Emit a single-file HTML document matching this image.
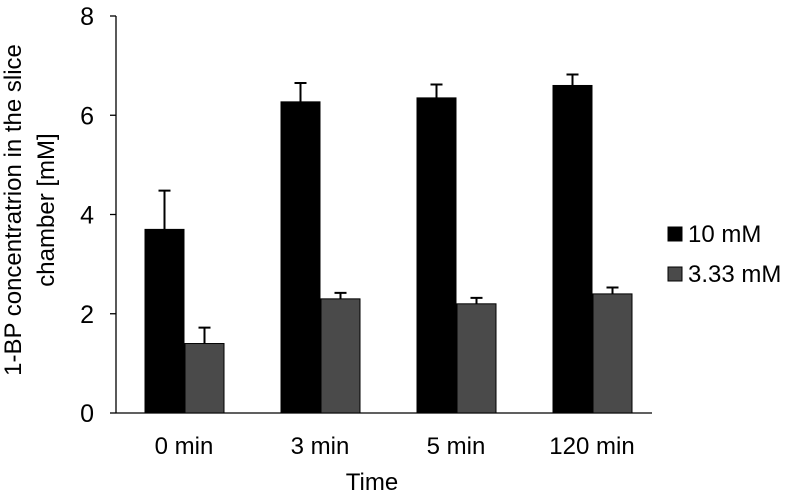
<!DOCTYPE html>
<html><head><meta charset="utf-8"><style>
body{margin:0;background:#fff}
svg{display:block;font-family:"Liberation Sans",Arial,sans-serif}
</style></head><body>
<svg id="chart" width="789" height="494"></svg>
<script>
const categories=["0 min","3 min","5 min","120 min"];
const seriesNames=["10 mM","3.33 mM"];
const values10=[3.7,6.27,6.35,6.6];
const err10=[0.78,0.38,0.27,0.22];
const values333=[1.4,2.3,2.2,2.4];
const err333=[0.32,0.12,0.12,0.13];
const yTicks=[0,2,4,6,8];
const colors=["#000000","#4a4a4a"];

const svg=document.getElementById('chart');
const NS='http://www.w3.org/2000/svg';
function mk(t,a,p){const e=document.createElementNS(NS,t);for(const k in a)e.setAttribute(k,a[k]);(p||svg).appendChild(e);return e;}
const x0=116,yBase=413,yTop=16,yMax=8,catW=136,barW=39;
const y=v=>yBase-(v/yMax)*(yBase-yTop);
const xCat=i=>x0+catW*i+catW/2;

let e=mk('line',{x1:x0,y1:yTop,x2:x0,y2:yBase,stroke:'#000','stroke-width':1.3});

e=mk('line',{x1:x0,y1:yBase,x2:x0+catW*4-8,y2:yBase,stroke:'#000','stroke-width':1.3});

yTicks.forEach(t=>{
  const l=mk('line',{x1:x0-6,y1:y(t),x2:x0,y2:y(t),stroke:'#000','stroke-width':1.3});
  
  const tx=mk('text',{x:94,y:y(t)+9,'text-anchor':'end','font-size':25});
  tx.textContent=t;
  
});
categories.forEach((c,i)=>{
  const tx=mk('text',{x:xCat(i),y:454,'text-anchor':'middle','font-size':24});
  tx.textContent=c;
  
});
function bars(vals,errs,off,col,name){
  vals.forEach((v,i)=>{
    const bx=xCat(i)+off;
    const r=mk('rect',{x:bx,y:y(v),width:barW,height:yBase-y(v),fill:col,stroke:'#000','stroke-width':1});
    
    const cx=bx+barW/2,ty=y(v+errs[i]);
    const g=mk('path',{d:`M${cx},${y(v)}V${ty}M${cx-6},${ty}H${cx+6}`,stroke:'#000','stroke-width':2,fill:'none'});
    
  });
}
bars(values10,err10,-39,colors[0],'bar-10mm');
bars(values333,err333,1,colors[1],'bar-3-33mm');

let t=mk('text',{x:372,y:490,'text-anchor':'middle','font-size':24});t.textContent='Time';

const yt=mk('text',{transform:'rotate(-90)','text-anchor':'middle','font-size':24});

const s1=mk('tspan',{x:-210,y:21},yt);s1.textContent='1-BP concentratrion in the slice';
const s2=mk('tspan',{x:-210,y:54},yt);s2.textContent='chamber [mM]';

seriesNames.forEach((n,i)=>{
  const ly=227+i*40;
  const r=mk('rect',{x:668,y:ly,width:14,height:14,fill:colors[i],stroke:'#000','stroke-width':1});
  
  const tx=mk('text',{x:688,y:ly+15,'font-size':24});tx.textContent=n;
  
});
</script>
</body></html>
